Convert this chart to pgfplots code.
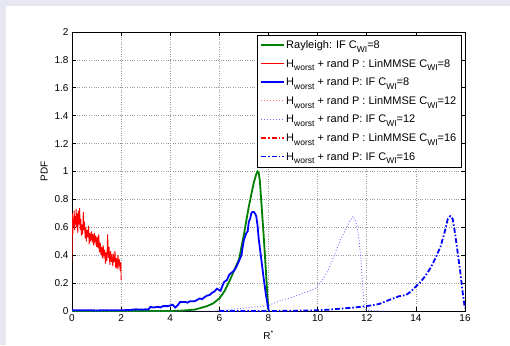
\documentclass[border=0pt]{standalone}
\usepackage{fontspec}
\setmainfont{Liberation Sans}
\usepackage{pgfplots}
\pgfplotsset{compat=1.18}
\definecolor{bgl}{RGB}{231,231,242}
\definecolor{mgreen}{RGB}{0,128,0}
\definecolor{lred}{RGB}{255,110,110}
\definecolor{lblue}{RGB}{110,110,255}
\newcommand\sub[1]{\lower3.6pt\hbox{\fontsize{8.5}{9}\selectfont #1}}
\newcommand\dt{\rule[-0.55pt]{1.1pt}{1.1pt}\hspace{1.9pt}}
\newcommand\dd{\rule[-0.9pt]{5pt}{1.8pt}\hspace{2pt}\rule[-0.9pt]{1.5pt}{1.8pt}\hspace{2pt}}
\newcommand\limg[1]{\node[inner sep=0pt, outer sep=0pt, anchor=west] at (0pt,0pt) {#1};}
\begin{document}
\begin{tikzpicture}
\fill[bgl] (0pt,0pt) rectangle (510pt,345pt);
\fill[white] (6pt,0pt) rectangle (510pt,339pt);
\useasboundingbox (0pt,0pt) rectangle (510pt,345pt);
\begin{axis}[
  at={(72pt,34pt)}, anchor=south west,
  scale only axis, width=393pt, height=279pt,
  xmin=0, xmax=16, ymin=0, ymax=2,
  xtick={0,2,4,6,8,10,12,14,16},
  ytick={0,0.2,0.4,0.6,0.8,1,1.2,1.4,1.6,1.8,2},
  tick pos=both, tick align=inside, major tick length=4pt,
  tick style={black, line width=0.6pt},
  grid=major, major grid style={dotted, gray!80, line width=0.6pt},
  axis line style={black, line width=0.9pt},
  tick label style={font=\fontsize{10}{12}\selectfont},
  /pgf/number format/assume math mode=true,
  label style={font=\fontsize{10}{12}\selectfont},
  xlabel={R\textsuperscript{*}}, ylabel={PDF},
  xlabel style={at={(axis description cs:0.5,-0.087)}, anchor=center},
  ylabel style={at={(axis description cs:-0.071,0.5)}, anchor=center},
  legend cell align=left,
  legend style={at={(rel axis cs:0.993,0.99)}, anchor=north east,
    draw=black, line width=0.9pt, fill=white,
    font=\fontsize{11}{12}\selectfont, row sep=5.1pt, inner sep=3.5pt},
]
\addlegendimage{legend image code/.code={\limg{\textcolor{mgreen}{\rule[-0.9pt]{23pt}{1.8pt}}}}}
\addlegendentry{Rayleigh: IF C\sub{WI}=8}
\addlegendimage{legend image code/.code={\limg{\textcolor{red}{\rule[-0.5pt]{23pt}{1pt}}}}}
\addlegendentry{H\sub{worst} + rand P : LinMMSE C\sub{WI}=8}
\addlegendimage{legend image code/.code={\limg{\textcolor{blue}{\rule[-0.9pt]{23pt}{1.8pt}}}}}
\addlegendentry{H\sub{worst} + rand P: IF C\sub{WI}=8}
\addlegendimage{legend image code/.code={\limg{\textcolor{lred}{\dt\dt\dt\dt\dt\dt\dt\rule[-0.55pt]{1.1pt}{1.1pt}}}}}
\addlegendentry{H\sub{worst} + rand P : LinMMSE C\sub{WI}=12}
\addlegendimage{legend image code/.code={\limg{\textcolor{lblue}{\dt\dt\dt\dt\dt\dt\dt\rule[-0.55pt]{1.1pt}{1.1pt}}}}}
\addlegendentry{H\sub{worst} + rand P: IF C\sub{WI}=12}
\addlegendimage{legend image code/.code={\limg{\textcolor{red}{\dd\dd\rule[-0.9pt]{2pt}{1.8pt}}}}}
\addlegendentry{H\sub{worst} + rand P : LinMMSE C\sub{WI}=16}
\addlegendimage{legend image code/.code={\limg{\textcolor{blue}{\dd\dd\rule[-0.9pt]{2pt}{1.8pt}}}}}
\addlegendentry{H\sub{worst} + rand P: IF C\sub{WI}=16}
\addplot[mgreen, solid, line width=1.8pt, forget plot] coordinates {
(0,0) (4,0) (4.5,0.003) (5,0.01) (5.2,0.02) (5.5,0.035) (5.75,0.055) (6,0.09) (6.2,0.14) (6.4,0.21) (6.6,0.29) (6.8,0.37) (7,0.55) (7.2,0.75) (7.4,0.92) (7.5,0.98) (7.55,1.0) (7.6,0.99) (7.65,0.93) (7.72,0.75) (7.8,0.55) (7.9,0.27) (7.96,0.1) (8,0)
};
\addplot[red, solid, line width=0.9pt, forget plot] coordinates {
(0.000,0.36) (0.010,0.62) (0.020,0.70) (0.035,0.55) (0.050,0.66) (0.070,0.60) (0.090,0.72) (0.110,0.58) (0.130,0.68) (0.150,0.62) (0.170,0.73) (0.190,0.60) (0.210,0.70) (0.235,0.56) (0.260,0.72) (0.285,0.62) (0.310,0.74) (0.335,0.58) (0.360,0.66) (0.385,0.54) (0.410,0.62) (0.435,0.55) (0.460,0.71) (0.485,0.58) (0.510,0.64) (0.535,0.52) (0.560,0.60) (0.585,0.50) (0.610,0.58) (0.640,0.53) (0.670,0.61) (0.700,0.48) (0.730,0.56) (0.760,0.50) (0.790,0.57) (0.820,0.51) (0.850,0.55) (0.880,0.47) (0.910,0.56) (0.940,0.50) (0.970,0.54) (1.000,0.46) (1.030,0.53) (1.060,0.45) (1.090,0.55) (1.120,0.42) (1.150,0.49) (1.180,0.40) (1.210,0.46) (1.240,0.38) (1.270,0.47) (1.300,0.40) (1.330,0.44) (1.360,0.34) (1.390,0.42) (1.420,0.36) (1.450,0.55) (1.480,0.38) (1.510,0.46) (1.540,0.33) (1.570,0.43) (1.600,0.35) (1.630,0.41) (1.660,0.32) (1.690,0.39) (1.720,0.35) (1.750,0.43) (1.780,0.31) (1.810,0.38) (1.840,0.30) (1.870,0.40) (1.900,0.33) (1.930,0.37) (1.960,0.29) (1.985,0.35) (2.000,0.22)
};
\addplot[blue, solid, line width=1.8pt, forget plot] coordinates {
(0,0.005) (0.5,0.006) (1.0,0.004) (1.5,0.006) (2.0,0.005) (2.4,0.008) (2.6,0.012) (2.8,0.010) (3.0,0.012) (3.1,0.01) (3.2,0.03) (3.3,0.025) (3.5,0.03) (3.6,0.025) (3.7,0.035) (3.9,0.035) (4.0,0.04) (4.1,0.045) (4.2,0.025) (4.3,0.04) (4.4,0.065) (4.6,0.065) (4.7,0.06) (4.8,0.07) (5.0,0.07) (5.1,0.08) (5.2,0.09) (5.3,0.085) (5.4,0.10) (5.5,0.11) (5.6,0.115) (5.7,0.13) (5.8,0.14) (5.9,0.16) (6.0,0.15) (6.05,0.145) (6.1,0.17) (6.2,0.21) (6.3,0.22) (6.4,0.26) (6.5,0.275) (6.6,0.29) (6.7,0.32) (6.8,0.36) (6.9,0.40) (6.95,0.46) (7.0,0.51) (7.1,0.56) (7.15,0.57) (7.2,0.64) (7.25,0.66) (7.3,0.70) (7.35,0.71) (7.4,0.71) (7.45,0.70) (7.5,0.68) (7.55,0.62) (7.6,0.52) (7.7,0.38) (7.8,0.24) (7.9,0.11) (8.0,0.01)
};
\addplot[lblue, dotted, line width=0.9pt, forget plot] coordinates {
(0,0) (5.8,0.0) (6.0,0.005) (6.5,0.012) (7.0,0.02) (7.5,0.03) (7.8,0.035) (8.0,0.04) (8.2,0.055) (8.5,0.075) (8.8,0.09) (9.0,0.10) (9.3,0.12) (9.6,0.14) (9.9,0.16) (10.1,0.20) (10.3,0.25) (10.5,0.32) (10.7,0.41) (10.9,0.50) (11.1,0.57) (11.3,0.64) (11.45,0.68) (11.55,0.64) (11.65,0.56) (11.75,0.40) (11.82,0.22) (11.87,0.08) (11.92,0.02) (12.0,0.005) (12.5,0) (13,0)
};
\addplot[blue, line width=1.8pt, dash pattern=on 5pt off 2pt on 1.5pt off 2pt, forget plot] coordinates {
(6,0) (8.0,0.0) (9.0,0.002) (10.0,0.005) (10.5,0.01) (11.0,0.018) (11.5,0.025) (12.0,0.035) (12.5,0.05) (13.0,0.085) (13.3,0.105) (13.6,0.115) (13.8,0.14) (14.0,0.175) (14.2,0.21) (14.4,0.255) (14.6,0.31) (14.8,0.38) (15.0,0.46) (15.15,0.55) (15.3,0.66) (15.4,0.68) (15.5,0.66) (15.6,0.55) (15.7,0.42) (15.8,0.29) (15.9,0.14) (15.97,0.05) (16.0,0.02)
};
\end{axis}
\end{tikzpicture}
\end{document}
